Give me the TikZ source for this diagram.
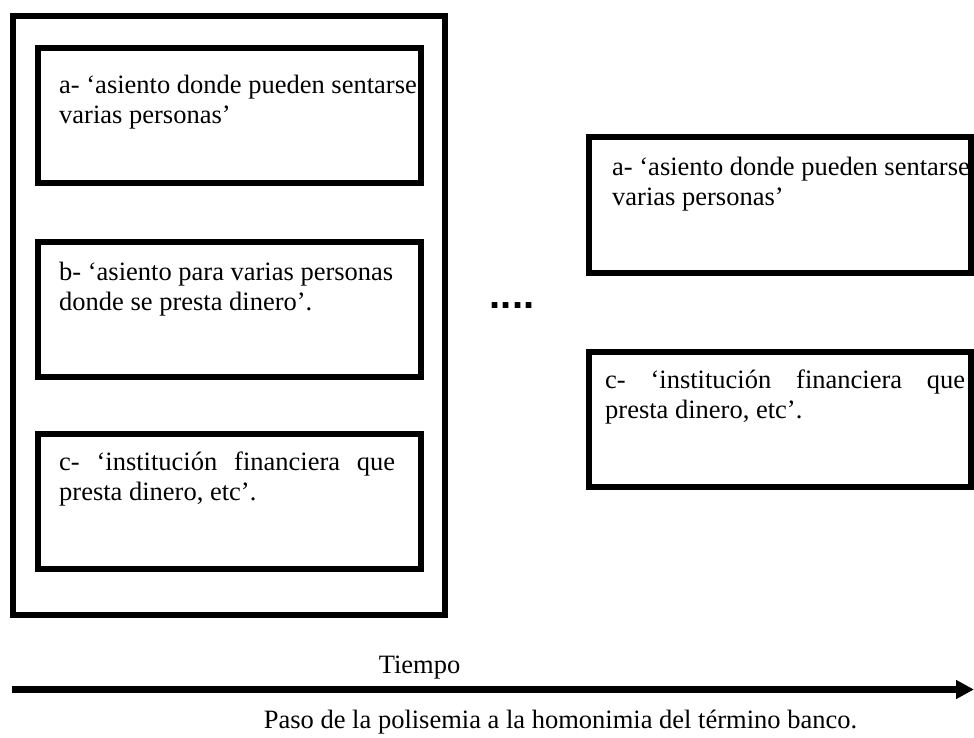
\documentclass[tikz,border=0pt]{standalone}
\usepackage{fontspec}
\setmainfont{Liberation Serif}
\newfontfamily\dotsfont{Liberation Sans}
\usetikzlibrary{arrows.meta}

\begin{document}
\begin{tikzpicture}[x=1pt,y=-1pt,
    box/.style={draw=black,line width=6pt,inner sep=0pt,outer sep=0pt,anchor=north west,minimum height=135pt},
    txt/.style={inner sep=0pt,anchor=north west,align=left,font=\fontsize{26.5}{30}\selectfont},
    lbl/.style={inner sep=0pt,anchor=base,font=\fontsize{26.5}{30}\selectfont}]
      \useasboundingbox (0,0) rectangle (974,738);

      \node[box,minimum width=432.5pt,minimum height=598.5pt] (O) at (12.5,16.5) {};

      \node[box,minimum width=383pt] (L1) at (38,48.5) {};
      \node[box,minimum width=383pt] (L2) at (38,241.5) {};
      \node[box,minimum width=383pt] (L3) at (38,433.5) {};

      \node[box,minimum width=382.5pt] (R1) at (588.5,137.5) {};
      \node[box,minimum width=382.5pt] (R3) at (588.5,351.5) {};

      \node[txt] (TL1) at ([shift={(21,23.5)}]L1.north west)
        {\strut a- ‘asiento donde pueden sentarse\\varias personas’};
      \node[txt] (TL2) at ([shift={(21,17.5)}]L2.north west)
        {\strut b- ‘asiento para varias personas\\donde se presta dinero’.};
      \node[txt] (TL3) at ([shift={(21,15.5)}]L3.north west)
        {\strut\hbox to 336pt{c-\hfill‘institución\hfill financiera\hfill que}\\presta dinero, etc’.};

      \node[txt] (TR1) at ([shift={(23.5,16.5)}]R1.north west)
        {\strut a- ‘asiento donde pueden sentarse\\varias personas’};
      \node[txt] (TR3) at ([shift={(16.5,15.5)}]R3.north west)
        {\strut\hbox to 360pt{c-\hfill‘institución\hfill financiera\hfill que}\\presta dinero, etc’.};

      \node[lbl,font=\fontsize{40}{40}\dotsfont\bfseries] (D) at (512,308) {....};

      \coordinate (T0) at (12,689.5);
      \coordinate (T1) at (974,689.5);
      \draw[-{Triangle[length=18pt,width=18pt]},line width=7pt] (T0) -- (T1);

      \node[lbl] (TT) at (419.5,673) {Tiempo};
      \node[lbl] (C) at (560.5,728) {Paso de la polisemia a la homonimia del término banco.};
  \end{tikzpicture}
\end{document}
